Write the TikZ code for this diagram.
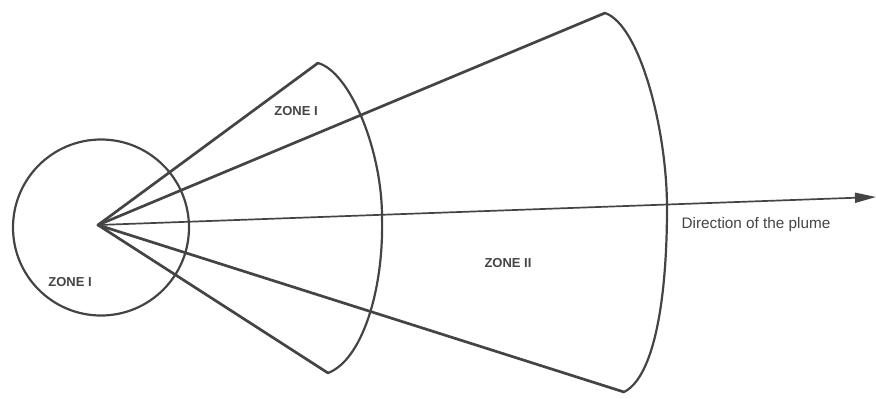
\documentclass[tikz,border=0pt]{standalone}
\usepackage{fontspec}
\setmainfont{Liberation Sans}
\usetikzlibrary{arrows.meta}
\definecolor{ink}{HTML}{444444}
\tikzset{
  ray/.style={draw=ink, line width=2.7pt, line cap=round},
  rim/.style={draw=ink, line width=2.2pt, line join=round},
  axis/.style={draw=ink, line width=1.7pt, -{Triangle[length=21pt,width=10pt]}},
  zonelabel/.style={text=ink, font=\bfseries\fontsize{13}{15}\selectfont, inner sep=0pt},
  dirlabel/.style={text=ink, font=\fontsize{15.3}{17}\selectfont, inner sep=0pt}
}
\begin{document}
\begin{tikzpicture}[x=1pt,y=-1pt]
\useasboundingbox (0,0) rectangle (876,399);
% key points
\coordinate (apex) at (98,225);
\coordinate (mt) at (318,63);
\coordinate (mr) at (382,217);
\coordinate (mb) at (328,373);
\coordinate (bt) at (605,13);
\coordinate (br) at (667,208);
\coordinate (bb) at (624,392);
\coordinate (tip) at (876,197);
% zone I circle
\node[draw=ink, line width=2.2pt, circle, minimum size=176pt, inner sep=0pt] (circ) at (101,227.5) {};
% rims
\draw[rim] (mt) .. controls (350,72) and (382,150) .. (mr) .. controls (384,290) and (362,360) .. (mb);
\draw[rim] (bt) .. controls (640,25) and (667,130) .. (br) .. controls (667,300) and (654,377) .. (bb);
% rays
\draw[ray] (apex) -- (mt);
\draw[ray] (apex) -- (mb);
\draw[ray] (apex) -- (bt);
\draw[ray] (apex) -- (bb);
% axis
\draw[axis] (apex) -- (tip);
% labels
\node[zonelabel] (z1) at (70,282) {ZONE I};
\node[zonelabel] (z2) at (296,111) {ZONE I};
\node[zonelabel] (z3) at (508,263) {ZONE II};
\node[dirlabel] (dir) at (756,225) {Direction of the plume};
\end{tikzpicture}
\end{document}
